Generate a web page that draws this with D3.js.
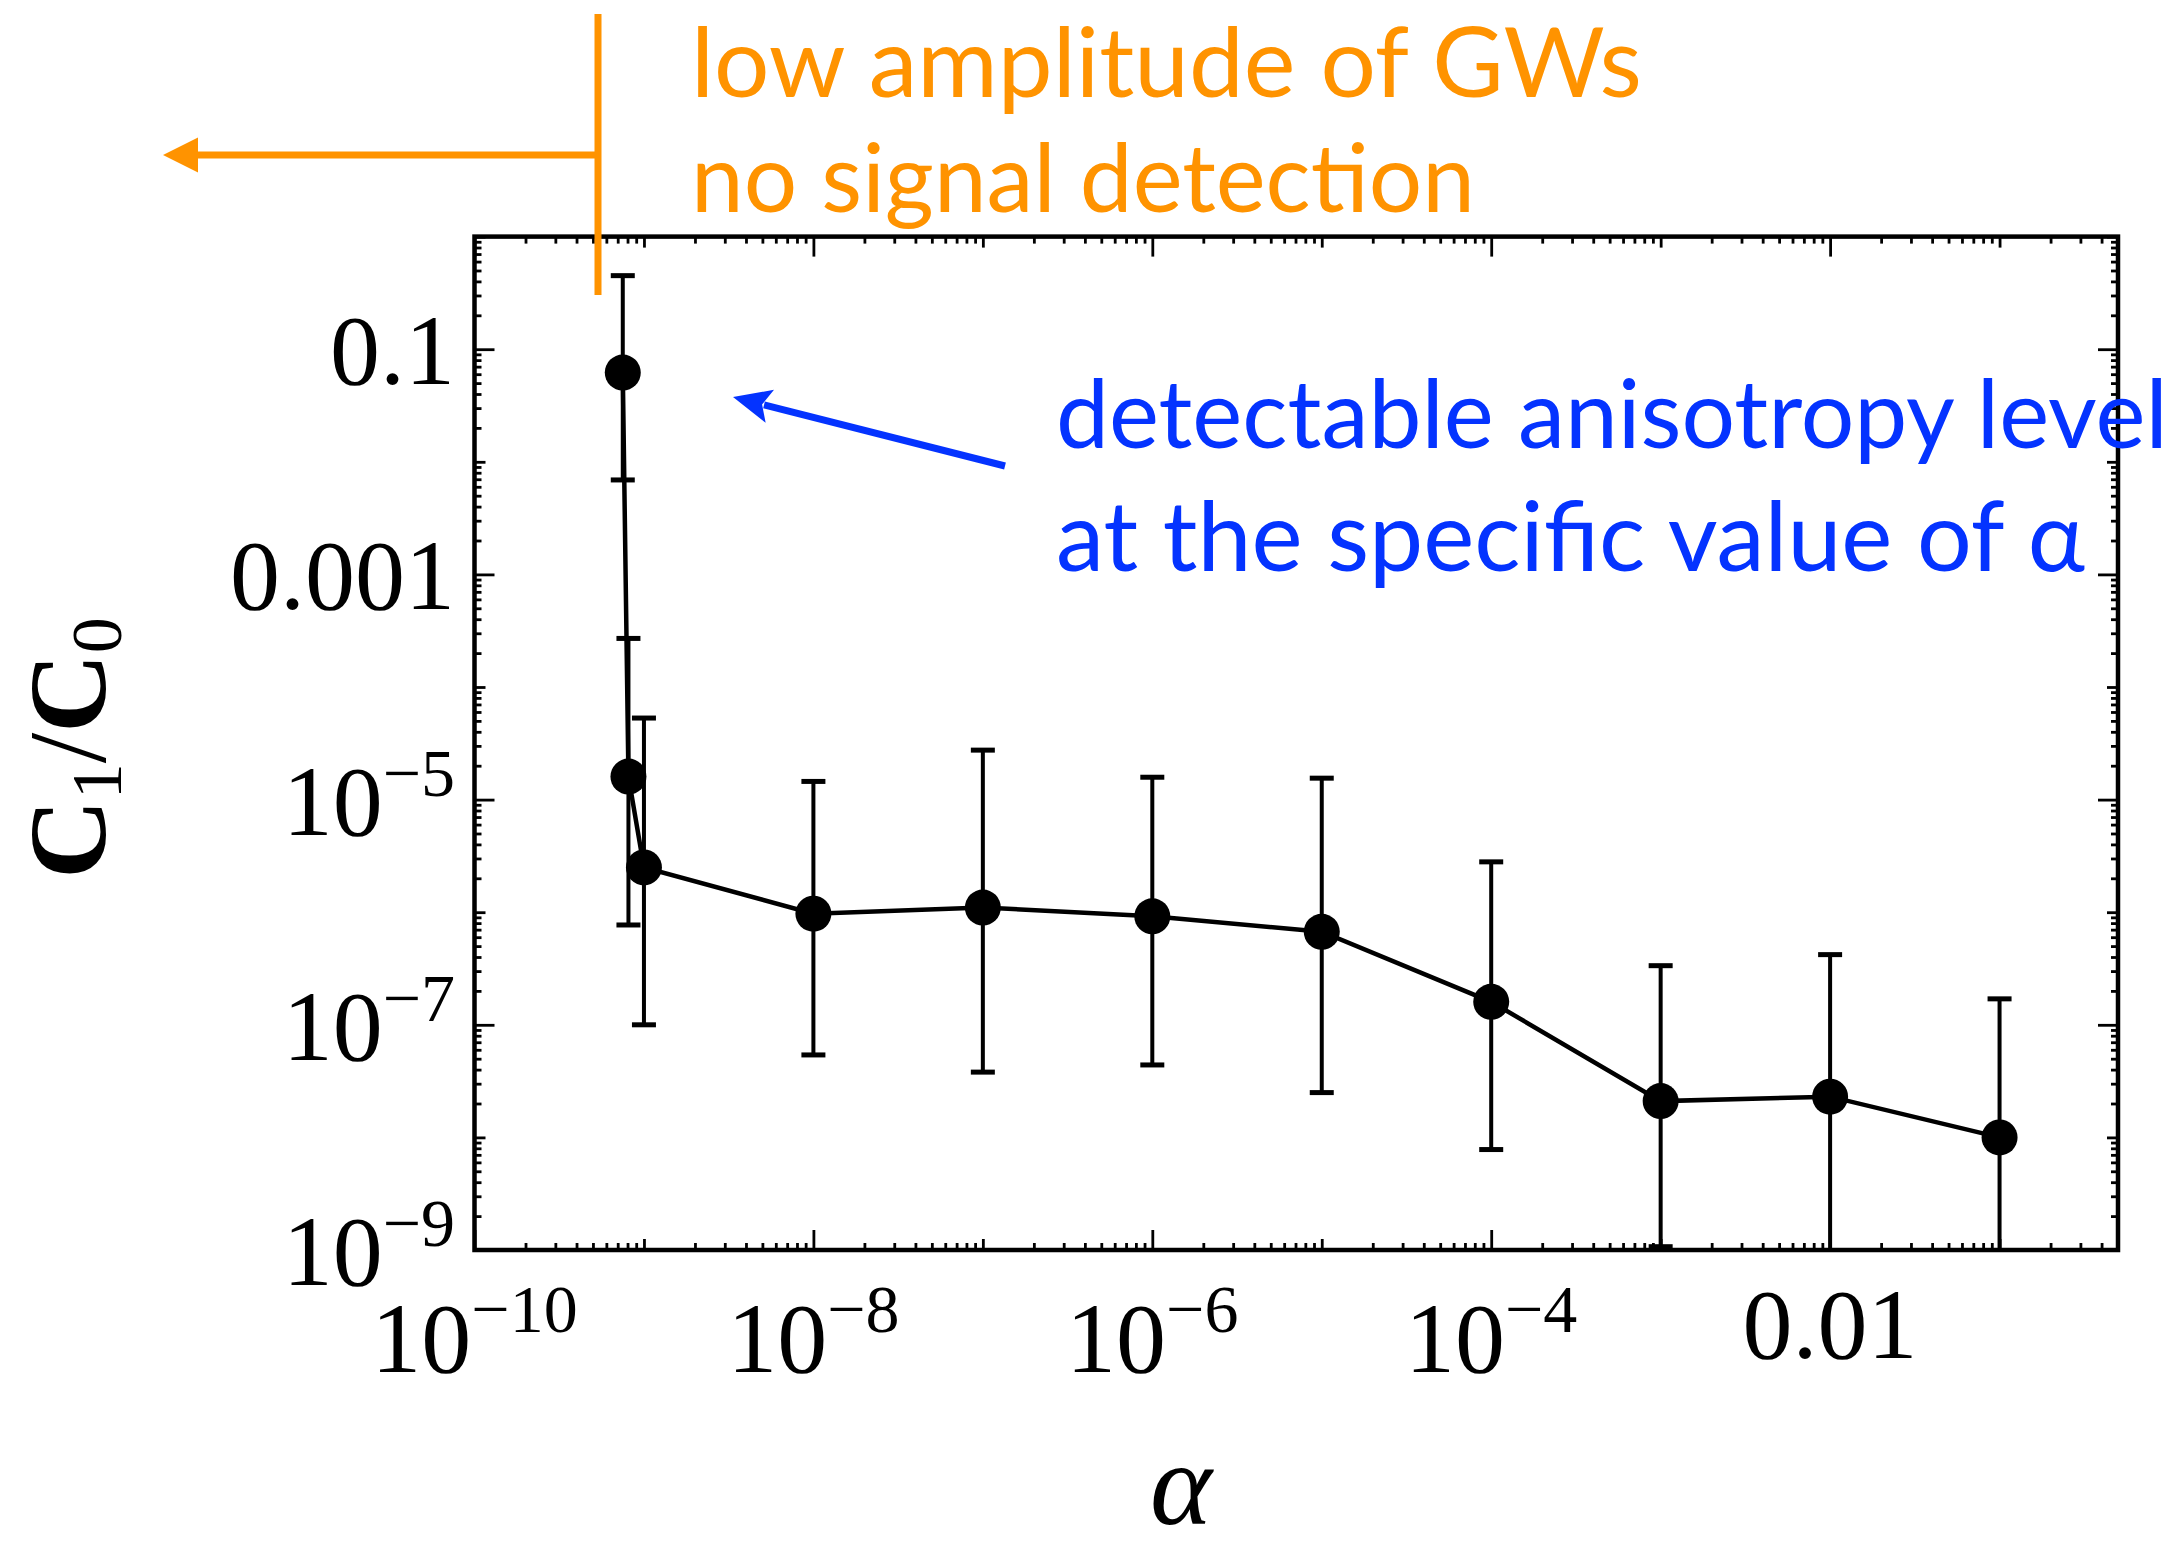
<!DOCTYPE html>
<html>
<head>
<meta charset="utf-8">
<script src="https://cdn.jsdelivr.net/npm/d3@7"></script>
<style>
  html, body { margin: 0; padding: 0; background: #fff; }
  svg { display: block; }
</style>
</head>
<body>
<svg id="chart" width="2182" height="1550"></svg>
<script>
// ---------------- data ----------------
const alphaValues = [7.5e-10, 8.1e-10, 1e-9, 1e-8, 1e-7, 1e-6, 1e-5, 1e-4, 1e-3, 1e-2, 1e-1];
const ratioValues = [0.062, 1.6e-5, 2.5e-6, 9.7e-7, 1.1e-6, 9.2e-7, 6.7e-7, 1.6e-7, 2.1e-8, 2.3e-8, 1.0e-8];
const ratioUpper  = [0.45, 2.7e-4, 5.3e-5, 1.45e-5, 2.75e-5, 1.58e-5, 1.55e-5, 2.8e-6, 3.35e-7, 4.2e-7, 1.7e-7];
const ratioLower  = [6.9e-3, 7.7e-7, 1.0e-7, 5.4e-8, 3.8e-8, 4.4e-8, 2.5e-8, 7.8e-9, 1.07e-9, 3e-10, 3e-10];

const xDomain = [1e-10, 0.5];
const yDomain = [1e-9, 1];

const xTickValues = [1e-10, 1e-8, 1e-6, 1e-4, 1e-2];
const xTickLabels = [["10", "−10"], ["10", "−8"], ["10", "−6"], ["10", "−4"], ["0.01", null]];
const yTickValues = [1e-1, 1e-3, 1e-5, 1e-7, 1e-9];
const yTickLabels = [["0.1", null], ["0.001", null], ["10", "−5"], ["10", "−7"], ["10", "−9"]];

const orangeLines = ["low amplitude of GWs", "no signal detection"];
const blueLines = ["detectable anisotropy level", "at the specific value of α"];

// ---------------- layout ----------------
const W = 2182, H = 1550;
const plot = { left: 474.5, right: 2118, top: 236.6, bottom: 1250 };
const ORANGE = "#FF9300", BLUE = "#0433FF";
const serif = "'Liberation Serif', 'Times New Roman', serif";
const sans = "Lato, 'Open Sans', sans-serif";

const svg = d3.select("#chart");

const x = d3.scaleLog().domain(xDomain).range([plot.left, plot.right]);
const y = d3.scaleLog().domain(yDomain).range([plot.bottom, plot.top]);

// tick sets
function decadeTicks(lo, hi) {
  const mid = [], minor = [];
  for (let e = Math.round(Math.log10(lo)); e <= Math.ceil(Math.log10(hi)); e++) {
    const d = Math.pow(10, e);
    for (let m = 1; m <= 9; m++) {
      const v = m * d;
      if (v < lo * 0.999 || v > hi * 1.001) continue;
      if (m === 1) mid.push(v); else minor.push(v);
    }
  }
  return { mid, minor };
}
const xt = decadeTicks(xDomain[0], xDomain[1]);
const yt = decadeTicks(yDomain[0], yDomain[1]);
const isMajor = (list, v) => list.some(t => Math.abs(Math.log10(t) - Math.log10(v)) < 1e-6);
const xMid = xt.mid.filter(v => !isMajor(xTickValues, v));
const yMid = yt.mid.filter(v => !isMajor(yTickValues, v));

const MAJ = 20, MID = 11, MIN = 7;
function drawAxis(gen, scale, transform, vals, size) {
  const g = svg.append("g").attr("transform", transform)
    .call(gen(scale).tickValues(vals).tickSize(-size).tickFormat(""));
  g.select(".domain").remove();
  g.selectAll(".tick line").attr("stroke", "#000").attr("stroke-width", 2.8);
}
[[xTickValues, MAJ], [xMid, MID], [xt.minor, MIN]].forEach(([vals, s]) => {
  drawAxis(d3.axisBottom, x, `translate(0,${plot.bottom})`, vals, s);
  drawAxis(d3.axisTop, x, `translate(0,${plot.top})`, vals, s);
});
[[yTickValues, MAJ], [yMid, MID], [yt.minor, MIN]].forEach(([vals, s]) => {
  drawAxis(d3.axisLeft, y, `translate(${plot.left},0)`, vals, s);
  drawAxis(d3.axisRight, y, `translate(${plot.right},0)`, vals, s);
});

// frame
svg.append("rect")
  .attr("x", plot.left).attr("y", plot.top)
  .attr("width", plot.right - plot.left).attr("height", plot.bottom - plot.top)
  .attr("fill", "none").attr("stroke", "#000").attr("stroke-width", 4.5);

// tick labels
const LBL = 100, SUP = 68;
function label(g, txt, sup, xPos, yPos, anchor, supRaise) {
  const t = g.append("text").attr("x", xPos).attr("y", yPos)
    .attr("text-anchor", anchor).attr("font-family", serif)
    .attr("font-size", LBL).attr("fill", "#000");
  t.append("tspan").text(txt);
  if (sup) t.append("tspan").attr("font-size", SUP).attr("dy", -supRaise).text(sup);
}
const xl = svg.append("g");
xTickValues.forEach((v, i) => {
  const [b, s] = xTickLabels[i];
  label(xl, b, s, x(v), s ? 1372 : 1358, "middle", 40);
});
const yl = svg.append("g");
yTickValues.forEach((v, i) => {
  const [b, s] = yTickLabels[i];
  label(yl, b, s, 455, y(v) + 35, "end", 39);
});

// axis titles
const yTitle = svg.append("text")
  .attr("transform", `translate(105,748) rotate(-90)`)
  .attr("text-anchor", "middle").attr("font-family", serif)
  .attr("font-weight", "bold")
  .attr("font-size", 110).attr("fill", "#000");
yTitle.append("tspan").text("C");
yTitle.append("tspan").attr("font-size", 72).attr("font-weight", "normal").attr("dy", 16).text("1");
yTitle.append("tspan").attr("dy", -16).attr("font-weight", "normal").text("/");
yTitle.append("tspan").text("C");
yTitle.append("tspan").attr("font-size", 72).attr("font-weight", "normal").attr("dy", 16).text("0");

svg.append("text").attr("x", 1181).attr("y", 1524)
  .attr("text-anchor", "middle").attr("font-family", serif)
  .attr("font-style", "italic").attr("font-size", 118).attr("fill", "#000")
  .text("α");

// ---------------- data marks ----------------
const data = alphaValues.map((a, i) => ({ a, v: ratioValues[i], hi: ratioUpper[i], lo: ratioLower[i] }));

svg.append("clipPath").attr("id", "plotclip").append("rect")
  .attr("x", plot.left).attr("y", plot.top)
  .attr("width", plot.right - plot.left).attr("height", plot.bottom - plot.top);

const marks = svg.append("g").attr("clip-path", "url(#plotclip)");

// error bars
const CAP = 12;
const eb = marks.append("g").attr("stroke", "#000").attr("stroke-width", 4).attr("fill", "none");
data.forEach(d => {
  eb.append("line").attr("x1", x(d.a)).attr("x2", x(d.a)).attr("y1", y(d.hi)).attr("y2", y(d.lo));
  eb.append("line").attr("x1", x(d.a) - CAP).attr("x2", x(d.a) + CAP).attr("y1", y(d.hi)).attr("y2", y(d.hi)).attr("stroke-width", 5);
  eb.append("line").attr("x1", x(d.a) - CAP).attr("x2", x(d.a) + CAP).attr("y1", y(d.lo)).attr("y2", y(d.lo)).attr("stroke-width", 5);
});

// connecting line
marks.append("path").datum(data)
  .attr("fill", "none").attr("stroke", "#000").attr("stroke-width", 4.5)
  .attr("d", d3.line().x(d => x(d.a)).y(d => y(d.v)));

// points
marks.append("g").selectAll("circle").data(data).join("circle")
  .attr("cx", d => x(d.a)).attr("cy", d => y(d.v)).attr("r", 18).attr("fill", "#000");

// ---------------- annotations ----------------
function fitLine(txt, x0, base, targetW, color) {
  const t = svg.append("text").attr("x", x0).attr("y", base)
    .attr("font-family", sans).attr("font-size", 100).attr("fill", color).text(txt);
  const w = t.node().getComputedTextLength();
  t.attr("font-size", 100 * targetW / w);
  return t;
}
fitLine(orangeLines[0], 691, 97, 951, ORANGE);
fitLine(orangeLines[1], 691, 212, 784, ORANGE);
fitLine(blueLines[0], 1056, 448, 1112, BLUE);
fitLine(blueLines[1], 1056, 571, 1029, BLUE);

// orange marker: vertical bar and left arrow
svg.append("line").attr("x1", 598).attr("x2", 598).attr("y1", 14).attr("y2", 295)
  .attr("stroke", ORANGE).attr("stroke-width", 7);
svg.append("line").attr("x1", 598).attr("x2", 190).attr("y1", 155).attr("y2", 155)
  .attr("stroke", ORANGE).attr("stroke-width", 7);
svg.append("path").attr("d", "M163,155 L198,137.5 L198,172.5 Z").attr("fill", ORANGE);

// blue arrow
(function () {
  const x0 = 1005, y0 = 466, x1 = 733, y1 = 397;
  const ang = Math.atan2(y1 - y0, x1 - x0);
  const L = 38, Hw = 17;
  const bx = x1 - L * Math.cos(ang), by = y1 - L * Math.sin(ang);
  svg.append("line").attr("x1", x0).attr("y1", y0)
    .attr("x2", x1 - (L - 6) * Math.cos(ang)).attr("y2", y1 - (L - 6) * Math.sin(ang))
    .attr("stroke", BLUE).attr("stroke-width", 7);
  const px = -Math.sin(ang), py = Math.cos(ang);
  svg.append("path")
    .attr("d", `M${x1},${y1} L${bx + Hw * px},${by + Hw * py} L${bx + 8 * Math.cos(ang)},${by + 8 * Math.sin(ang)} L${bx - Hw * px},${by - Hw * py} Z`)
    .attr("fill", BLUE);
})();
</script>
</body>
</html>
